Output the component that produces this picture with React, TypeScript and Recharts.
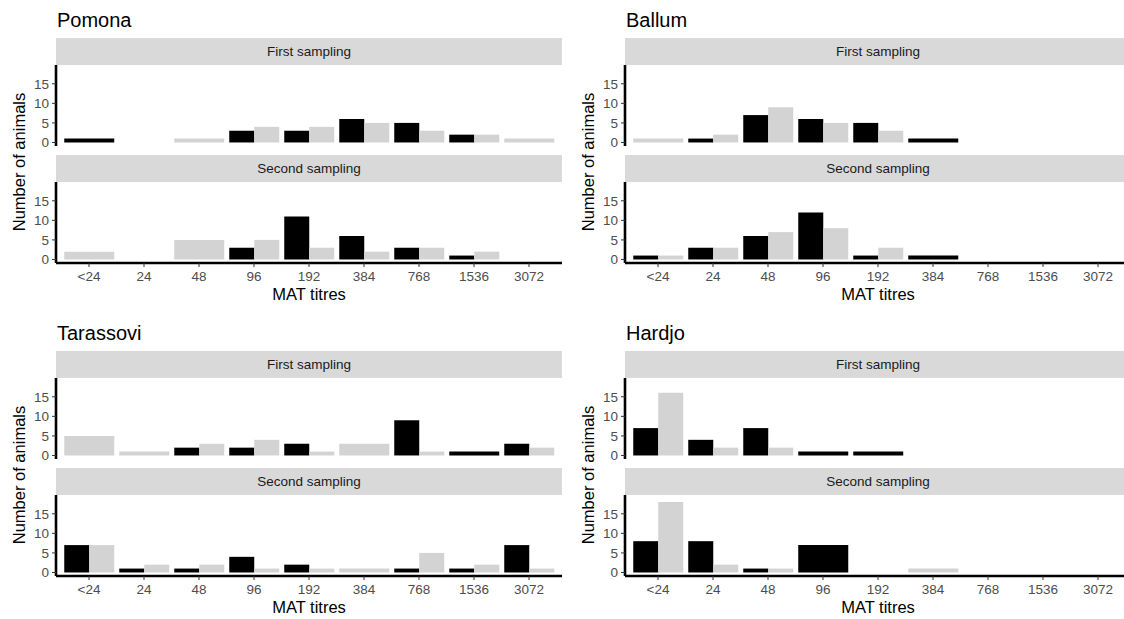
import { BarChart, Bar, XAxis, YAxis, Cell } from 'recharts';

const titres = ['<24', '24', '48', '96', '192', '384', '768', '1536', '3072'];

// dark = black bars, light = grey bars; null = no bar for that titre
const pomonaFirstDark = [1, null, null, 3, 3, 6, 5, 2, null];
const pomonaFirstLight = [null, null, 1, 4, 4, 5, 3, 2, 1];
const pomonaSecondDark = [null, null, null, 3, 11, 6, 3, 1, null];
const pomonaSecondLight = [2, null, 5, 5, 3, 2, 3, 2, null];

const ballumFirstDark = [null, 1, 7, 6, 5, 1, null, null, null];
const ballumFirstLight = [1, 2, 9, 5, 3, null, null, null, null];
const ballumSecondDark = [1, 3, 6, 12, 1, 1, null, null, null];
const ballumSecondLight = [1, 3, 7, 8, 3, null, null, null, null];

const tarassoviFirstDark = [null, null, 2, 2, 3, null, 9, 1, 3];
const tarassoviFirstLight = [5, 1, 3, 4, 1, 3, 1, null, 2];
const tarassoviSecondDark = [7, 1, 1, 4, 2, null, 1, 1, 7];
const tarassoviSecondLight = [7, 2, 2, 1, 1, 1, 5, 2, 1];

const hardjoFirstDark = [7, 4, 7, 1, 1, null, null, null, null];
const hardjoFirstLight = [16, 2, 2, null, null, null, null, null, null];
const hardjoSecondDark = [8, 8, 1, 7, null, null, null, null, null];
const hardjoSecondLight = [18, 2, 1, null, null, 1, null, null, null];

const yTicks = [0, 5, 10, 15];

const DARK = '#000000';
const LIGHT = '#D3D3D3';
const FONT = '"Liberation Sans", Arial, Helvetica, sans-serif';

const PLOT_W = 506;
const PLOT_H = 81;
const Y_W = 40;
const PAD = 5.5;

type Val = number | null;

// bars present in both groups are dodged; a lone bar takes the full width (like ggplot's dodge)
function buildRows(dark: Val[], light: Val[]) {
  return titres.map((titre, i) => {
    const d = dark[i];
    const l = light[i];
    const both = d != null && l != null;
    return {
      titre,
      dark: both ? d : null,
      light: both ? l : null,
      solo: both ? null : d != null ? d : l,
      soloFill: d != null ? DARK : LIGHT,
    };
  });
}

function Facet({ dark, light, showX }: { dark: Val[]; light: Val[]; showX: boolean }) {
  const rows = buildRows(dark, light);
  const xH = showX ? 36 : 0;
  return (
    <BarChart
      width={Y_W + PLOT_W + 2}
      height={3 + PLOT_H + (showX ? xH : 3)}
      data={rows}
      margin={{ top: 3, right: 2, bottom: showX ? 0 : 3, left: 0 }}
      barCategoryGap="5%"
      barGap={0}
    >
      <XAxis
        xAxisId="pair"
        dataKey="titre"
        type="category"
        hide={!showX}
        height={xH}
        padding={{ left: PAD, right: PAD }}
        axisLine={{ stroke: '#000', strokeWidth: 2.6 }}
        tickLine={{ stroke: '#333' }}
        tickSize={4}
        tickMargin={4}
        tick={{ fill: '#4D4D4D', fontSize: 13.5, fontFamily: FONT }}
        interval={0}
      />
      <XAxis xAxisId="solo" dataKey="titre" type="category" hide padding={{ left: PAD, right: PAD }} />
      <YAxis
        type="number"
        width={Y_W}
        domain={[-0.9, 19.8]}
        allowDataOverflow
        ticks={yTicks}
        interval={0}
        axisLine={{ stroke: '#000', strokeWidth: 2.6 }}
        tickLine={{ stroke: '#333' }}
        tickSize={4}
        tickMargin={3}
        tick={{ fill: '#4D4D4D', fontSize: 13.5, fontFamily: FONT }}
      />
      <Bar xAxisId="pair" dataKey="dark" fill={DARK} isAnimationActive={false} />
      <Bar xAxisId="pair" dataKey="light" fill={LIGHT} isAnimationActive={false} />
      <Bar xAxisId="solo" dataKey="solo" isAnimationActive={false}>
        {rows.map((r, i) => (
          <Cell key={`solo-${i}`} fill={r.soloFill} />
        ))}
      </Bar>
    </BarChart>
  );
}

function Strip({ label, top, left }: { label: string; top: number; left: number }) {
  return (
    <div
      style={{
        position: 'absolute',
        left,
        top,
        width: PLOT_W,
        height: 27,
        background: '#D9D9D9',
        color: '#1A1A1A',
        fontSize: 13.5,
        lineHeight: '27px',
        textAlign: 'center',
      }}
    >
      {label}
    </div>
  );
}

interface PanelProps {
  name: string;
  left: number;
  top: number;
  firstDark: Val[];
  firstLight: Val[];
  secondDark: Val[];
  secondLight: Val[];
}

function Panel({ name, left, top, firstDark, firstLight, secondDark, secondLight }: PanelProps) {
  return (
    <>
      <div style={{ position: 'absolute', left: left + 1, top: top + 10, fontSize: 20, lineHeight: '20px', color: '#000' }}>
        {name}
      </div>
      <Strip label="First sampling" left={left} top={top + 38} />
      <div style={{ position: 'absolute', left: left - Y_W, top: top + 65 - 3 }}>
        <Facet dark={firstDark} light={firstLight} showX={false} />
      </div>
      <Strip label="Second sampling" left={left} top={top + 155} />
      <div style={{ position: 'absolute', left: left - Y_W, top: top + 182 - 3 }}>
        <Facet dark={secondDark} light={secondLight} showX />
      </div>
      <div
        style={{
          position: 'absolute',
          left: left - 37 - 100,
          top: top + 162 - 9,
          width: 200,
          height: 18,
          lineHeight: '18px',
          fontSize: 16.5,
          textAlign: 'center',
          color: '#000',
          transform: 'rotate(-90deg)',
        }}
      >
        Number of animals
      </div>
      <div
        style={{
          position: 'absolute',
          left: left + PLOT_W / 2 - 100,
          top: top + 286,
          width: 200,
          fontSize: 16.5,
          lineHeight: '16px',
          textAlign: 'center',
          color: '#000',
        }}
      >
        MAT titres
      </div>
    </>
  );
}

export default function App() {
  return (
    <div
      style={{
        position: 'absolute',
        left: 0,
        top: 0,
        width: 1124,
        height: 619,
        overflow: 'hidden',
        background: '#fff',
        fontFamily: FONT,
      }}
    >
      <Panel name="Pomona" left={56} top={0} firstDark={pomonaFirstDark} firstLight={pomonaFirstLight} secondDark={pomonaSecondDark} secondLight={pomonaSecondLight} />
      <Panel name="Ballum" left={625} top={0} firstDark={ballumFirstDark} firstLight={ballumFirstLight} secondDark={ballumSecondDark} secondLight={ballumSecondLight} />
      <Panel name="Tarassovi" left={56} top={313} firstDark={tarassoviFirstDark} firstLight={tarassoviFirstLight} secondDark={tarassoviSecondDark} secondLight={tarassoviSecondLight} />
      <Panel name="Hardjo" left={625} top={313} firstDark={hardjoFirstDark} firstLight={hardjoFirstLight} secondDark={hardjoSecondDark} secondLight={hardjoSecondLight} />
    </div>
  );
}
